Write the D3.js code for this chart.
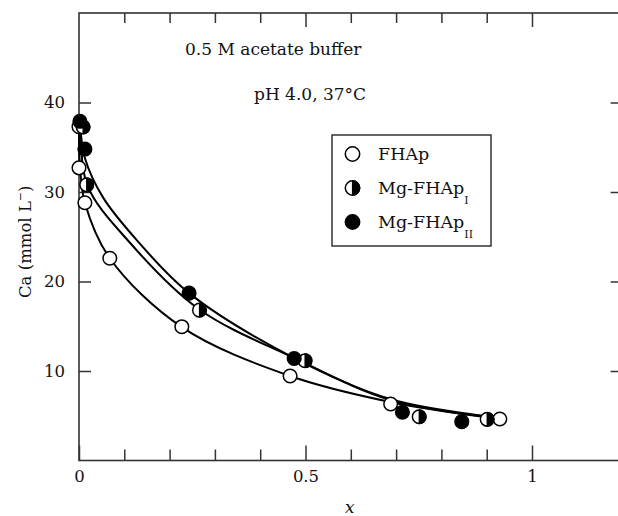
<!DOCTYPE html>
<html>
<head>
<meta charset="utf-8">
<script src="https://cdn.jsdelivr.net/npm/d3@7"></script>
<style>
  html, body { margin: 0; padding: 0; background: #fff; }
  svg { display: block; }
  text { font-family: "DejaVu Serif", "Liberation Serif", serif; fill: #111; }
</style>
</head>
<body>
<svg id="chart" width="618" height="516"></svg>
<script>
// ---- data ----
const seriesNames = ["FHAp", "Mg-FHAp", "Mg-FHAp"];
const seriesSubs  = ["", "I", "II"];
const seriesFill  = ["open", "half", "filled"];

// measured points  [x, Ca]
const fhapX   = [0.0, 0.0, 0.013, 0.068, 0.227, 0.466, 0.688, 0.929];
const fhapY   = [37.3, 32.7, 28.8, 22.6, 14.95, 9.44, 6.31, 4.64];
const mg1X    = [0.009, 0.017, 0.266, 0.499, 0.751, 0.901];
const mg1Y    = [37.26, 30.8, 16.8, 11.15, 4.89, 4.6];
const mg2X    = [0.002, 0.013, 0.243, 0.475, 0.714, 0.845];
const mg2Y    = [37.9, 34.8, 18.7, 11.4, 5.39, 4.34];

// fitted curves [x, Ca]
const fhapCurveX = [0.0, 0.002, 0.013, 0.068, 0.227, 0.466, 0.687, 0.896];
const fhapCurveY = [37.5, 33.0, 28.8, 22.6, 14.9, 9.44, 6.54, 4.86];
const mg1CurveX  = [0.004, 0.018, 0.113, 0.265, 0.475, 0.687, 0.896];
const mg1CurveY  = [37.3, 30.8, 24.3, 16.9, 11.45, 6.76, 4.92];
const mg2CurveX  = [0.002, 0.013, 0.053, 0.128, 0.243, 0.475, 0.687, 0.896];
const mg2CurveY  = [37.9, 33.8, 29.4, 24.6, 18.7, 11.45, 6.87, 4.97];

// ticks
const xMinorTicks = [0.1, 0.2, 0.3, 0.4, 0.6, 0.7, 0.8, 0.9];
const xMajorTicks = [0, 0.5, 1];
const xTickLabels = ["0", "0.5", "1"];
const yTicks      = [10, 20, 30, 40];
const yTickLabels = ["10", "20", "30", "40"];
const annotations = ["0.5 M acetate buffer", "pH 4.0, 37°C"];

// ---- drawing ----
const svg = d3.select("#chart");
const x = d3.scaleLinear().domain([0, 1.2]).range([79, 622.6]);
const y = d3.scaleLinear().domain([0, 50]).range([460.5, 13]);
const axisColor = "#333";

function styleAxis(g) {
  g.select(".domain").remove();
  g.selectAll("line").attr("stroke", axisColor).attr("stroke-width", 1.5);
  g.selectAll("text").style("font-family", '"DejaVu Serif", serif').style("font-size", "16.5px").attr("fill", "#111");
}

// bottom axis: minor ticks
svg.append("g").attr("transform", `translate(0,${y(0)})`)
  .call(d3.axisBottom(x).tickValues(xMinorTicks).tickSizeInner(-11).tickSizeOuter(0).tickFormat(""))
  .call(styleAxis);
// bottom axis: major ticks with labels
svg.append("g").attr("transform", `translate(0,${y(0)})`)
  .call(d3.axisBottom(x).tickValues(xMajorTicks).tickSizeInner(-15).tickSizeOuter(0).tickPadding(10)
    .tickFormat((d, i) => xTickLabels[i]))
  .call(styleAxis);
// top axis
svg.append("g").attr("transform", `translate(0,${y(50)})`)
  .call(d3.axisTop(x).tickValues(xMinorTicks).tickSizeInner(-10).tickSizeOuter(0).tickFormat(""))
  .call(styleAxis);
svg.append("g").attr("transform", `translate(0,${y(50)})`)
  .call(d3.axisTop(x).tickValues(xMajorTicks.slice(1)).tickSizeInner(-14).tickSizeOuter(0).tickFormat(""))
  .call(styleAxis);
// left axis
svg.append("g").attr("transform", `translate(${x(0)},0)`)
  .call(d3.axisLeft(y).tickValues(yTicks).tickSizeInner(-12).tickSizeOuter(0).tickPadding(14)
    .tickFormat((d, i) => yTickLabels[i]))
  .call(styleAxis);
// right axis
svg.append("g").attr("transform", `translate(${x(1.2)},0)`)
  .call(d3.axisRight(y).tickValues(yTicks).tickSizeInner(-12).tickSizeOuter(0).tickFormat(""))
  .call(styleAxis);

// frame
svg.append("rect")
  .attr("x", x(0)).attr("y", y(50))
  .attr("width", x(1.2) - x(0)).attr("height", y(0) - y(50))
  .attr("fill", "none").attr("stroke", axisColor).attr("stroke-width", 1.6);

// axis titles
svg.append("text").attr("x", (x(0) + x(1.2)) / 2 - 1).attr("y", 513)
  .attr("text-anchor", "middle").style("font-style", "italic").style("font-size", "17px").text("x");
const yt = svg.append("text")
  .attr("transform", `translate(31,${(y(0) + y(50)) / 2 + 5}) rotate(-90)`)
  .attr("text-anchor", "middle").style("font-size", "16.5px");
yt.append("tspan").text("Ca (mmol L");
yt.append("tspan").attr("dy", -7).style("font-size", "11px").text("\u2212");
yt.append("tspan").attr("dy", 7).text(")");

// annotations
svg.append("text").attr("x", 185).attr("y", 55).style("font-size", "17px").text(annotations[0]);
svg.append("text").attr("x", 254).attr("y", 100).style("font-size", "17px").text(annotations[1]);

// curves
const line = d3.line().x(d => x(d[0])).y(d => y(d[1])).curve(d3.curveCatmullRom.alpha(0.5));
const curves = [
  d3.zip(fhapCurveX, fhapCurveY),
  d3.zip(mg1CurveX, mg1CurveY),
  d3.zip(mg2CurveX, mg2CurveY)
];
svg.append("g").selectAll("path").data(curves).join("path")
  .attr("d", line).attr("fill", "none").attr("stroke", "#000").attr("stroke-width", 2);

// markers
function drawMarker(g, cx, cy, r, kind) {
  g.append("circle").attr("cx", cx).attr("cy", cy).attr("r", r)
    .attr("fill", kind === "filled" ? "#000" : "#fff")
    .attr("stroke", "#000").attr("stroke-width", 1.5);
  if (kind === "half") {
    g.append("path")
      .attr("d", `M${cx},${cy - r} A${r},${r} 0 0 1 ${cx},${cy + r} Z`)
      .attr("fill", "#000").attr("stroke", "#000").attr("stroke-width", 1.2);
  }
}
const pointSets = [
  { xs: fhapX, ys: fhapY, kind: seriesFill[0] },
  { xs: mg1X,  ys: mg1Y,  kind: seriesFill[1] },
  { xs: mg2X,  ys: mg2Y,  kind: seriesFill[2] }
];
const mg = svg.append("g");
pointSets.forEach(s => {
  s.xs.forEach((xv, i) => drawMarker(mg, x(xv), y(s.ys[i]), 6.8, s.kind));
});

// legend
const lg = svg.append("g");
lg.append("rect").attr("x", 332).attr("y", 135).attr("width", 159).attr("height", 111)
  .attr("fill", "#fff").attr("stroke", axisColor).attr("stroke-width", 1.5);
const legendY = [154, 188, 222];
seriesNames.forEach((name, i) => {
  drawMarker(lg, 352.5, legendY[i], 7.2, seriesFill[i]);
  const t = lg.append("text").attr("x", 378).attr("y", legendY[i] + 6).style("font-size", "17.5px");
  t.append("tspan").text(name);
  if (seriesSubs[i]) {
    t.append("tspan").attr("dy", 10).style("font-size", "11px").text(seriesSubs[i]);
  }
});
</script>
</body>
</html>
